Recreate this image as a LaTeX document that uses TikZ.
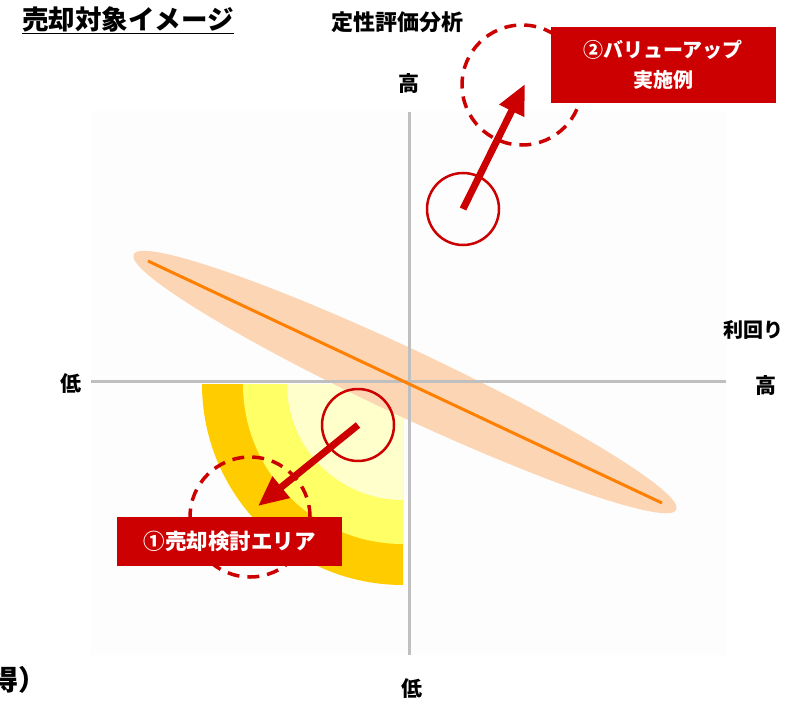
\documentclass[tikz,border=0pt]{standalone}
\usepackage{fontspec}
\setmainfont{Noto Sans CJK JP}
\usepackage{tikz}
\usetikzlibrary{arrows.meta}
\definecolor{ColRed}{RGB}{204,0,0}
\definecolor{ColGold}{RGB}{255,204,0}
\definecolor{ColLemon}{RGB}{255,255,102}
\definecolor{ColCream}{RGB}{255,255,204}
\definecolor{ColPeach}{RGB}{252,213,180}
\definecolor{ColOrange}{RGB}{255,128,0}
\definecolor{ColAxis}{RGB}{191,191,191}
\definecolor{ColPlot}{RGB}{253,253,253}
\tikzstyle{AxisLine}=[ColAxis,line width=3pt]
\tikzstyle{AxisText}=[font=\fontsize{21}{21}\selectfont\bfseries,inner sep=0pt]
\tikzstyle{RedBox}=[fill=ColRed,text=white,font=\fontsize{20}{30}\selectfont\bfseries,
align=center,inner sep=0pt]
\tikzstyle{RedRing}=[circle,draw=ColRed,line width=2.5pt,minimum size=72pt,inner sep=0pt]
\tikzstyle{DashRing}=[circle,draw=ColRed,line width=3.5pt,dash pattern=on 12pt off 8pt,
minimum size=120pt,inner sep=0pt]
\tikzstyle{RedArrow}=[ColRed,line width=7pt,-{Triangle[length=30pt,width=26pt]}]
\tikzstyle{TrendLine}=[ColOrange,line width=3pt]

\begin{document}
\begin{tikzpicture}[x=1pt,y=-1pt]
        \useasboundingbox(0,0)rectangle(800,701);
        \fill[ColPlot](91,111)rectangle(727,655);
        % sale area
        \fill[ColGold](403,384)--(202,384)arc[start angle=180,end angle=270,radius=201pt]--cycle;
        \fill[ColLemon](403,384)--(243,384)arc[start angle=180,end angle=270,radius=160pt]--cycle;
        \fill[ColCream](403,384)--(287,384)arc[start angle=180,end angle=270,radius=116pt]--cycle;
        % trend band
        \fill[ColPeach,rotate around={-25.2:(405,382)}](405,382)ellipse[x radius=300pt,y radius=33pt];
        \coordinate(TopEnd)at(409,112);
        \coordinate(BotEnd)at(409,655);
        \coordinate(LeftEnd)at(91,381);
        \coordinate(RightEnd)at(726,381);
        \draw[AxisLine](TopEnd)--(BotEnd);
        \draw[AxisLine](LeftEnd)--(RightEnd);
        \coordinate(LineA)at(148,261);
        \coordinate(LineB)at(662,503);
        \draw[TrendLine](LineA)--(LineB);
        % value up
        \node[DashRing](DashA)at(522,85){};
        \node[RedBox,minimum width=225pt,minimum height=76pt](BoxA)at(663,65){②バリューアップ\\実施例};
        \node[RedRing](RingA)at(463,209){};
        \coordinate(TipA)at(525,84);
        \draw[RedArrow](RingA.center)--(TipA);
        % sale review
        \node[DashRing](DashB)at(250,517){};
        \node[RedBox,minimum width=225pt,minimum height=49pt,font=\fontsize{21.5}{21.5}\selectfont\bfseries](BoxB)at(229.5,541.5){①売却検討エリア};
        \node[RedRing](RingB)at(358,425){};
        \coordinate(TipB)at(258,506);
        \draw[RedArrow](RingB.center)--(TipB);
        % labels
        \node[font=\fontsize{26.5}{26.5}\selectfont\bfseries,inner sep=0pt](Title)at(128,20){\underline{売却対象イメージ}};
        \node[AxisText,font=\fontsize{22}{22}\selectfont\bfseries](YName)at(397,22){定性評価分析};
        \node[AxisText](YHigh)at(409,84){高};
        \node[AxisText](YLow)at(412,689){低};
        \node[AxisText](XLow)at(71,384){低};
        \node[AxisText](XHigh)at(766,386){高};
        \node[AxisText,font=\fontsize{20}{20}\selectfont\bfseries](XName)at(753,330){利回り};
        \node[AxisText,font=\fontsize{28}{28}\selectfont\bfseries,anchor=west](Cut)at(-10,680){得）};
    \end{tikzpicture}
\end{document}
